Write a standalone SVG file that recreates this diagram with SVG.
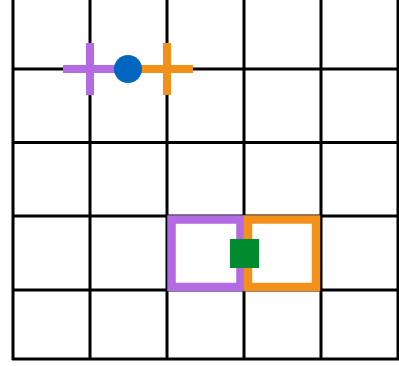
<svg xmlns="http://www.w3.org/2000/svg" width="399" height="366" viewBox="0 0 399 366">
<style>
.g{stroke:#000;stroke-width:3;fill:none}
.p{stroke:#B36AE2}
.o{stroke:#F39019}
</style>
<rect width="399" height="366" fill="#fff"/>
<g id="grid">
<line class="g" x1="13" y1="0" x2="13" y2="360"/>
<line class="g" x1="90" y1="0" x2="90" y2="360"/>
<line class="g" x1="167" y1="0" x2="167" y2="360"/>
<line class="g" x1="244" y1="0" x2="244" y2="360"/>
<line class="g" x1="321" y1="0" x2="321" y2="360"/>
<line class="g" x1="398" y1="0" x2="398" y2="360"/>
<line class="g" x1="12" y1="69" x2="399" y2="69"/>
<line class="g" x1="12" y1="142.5" x2="399" y2="142.5"/>
<line class="g" x1="12" y1="216" x2="399" y2="216"/>
<line class="g" x1="12" y1="290" x2="399" y2="290"/>
<line class="g" x1="12" y1="359" x2="399" y2="359"/>
</g>
<g id="purple-cross" class="p" stroke-width="8">
<line x1="63" y1="69" x2="120" y2="69"/>
<line x1="90" y1="43" x2="90" y2="95"/>
</g>
<g id="orange-cross" class="o" stroke-width="8">
<line x1="138" y1="69" x2="193" y2="69"/>
<line x1="167" y1="43" x2="167" y2="95"/>
</g>
<g id="blue-dot"><circle cx="128" cy="69" r="14" fill="#0066C0"/></g>
<g id="purple-box"><rect class="p" x="171.5" y="219.5" width="69" height="67.5" fill="none" stroke-width="8.5"/></g>
<g id="orange-box"><rect class="o" x="248" y="219.5" width="68" height="67.5" fill="none" stroke-width="8.5"/></g>
<g id="green-square"><rect x="230" y="239" width="29" height="29" fill="#008B2E"/></g>
</svg>
